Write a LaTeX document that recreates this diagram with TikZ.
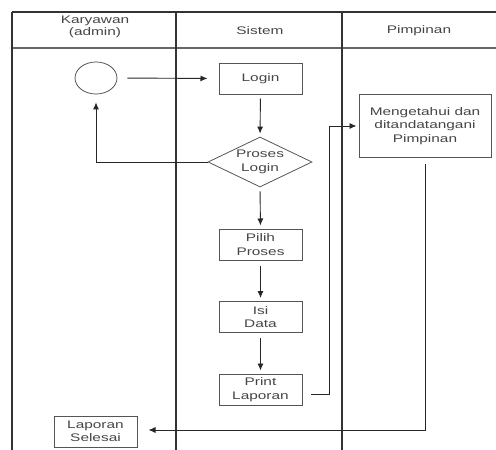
\documentclass[tikz,border=0pt]{standalone}
\usepackage{fontspec}
\setmainfont{Liberation Sans}[FakeStretch=1.4]
\usetikzlibrary{shapes.geometric,arrows.meta}
\definecolor{txt}{HTML}{454545}
\definecolor{edge}{HTML}{555555}

\begin{document}
\begin{tikzpicture}[x=1pt,y=-1pt,
  box/.style={draw=edge,line width=1pt,rectangle,minimum width=83pt,minimum height=31pt,
    inner sep=1pt,align=center,text=txt,font=\fontsize{11}{13.5}\selectfont},
  decide/.style={draw=edge,line width=0.8pt,diamond,aspect=2.1,minimum width=104pt,
    minimum height=50pt,inner sep=0pt,align=center,text=txt,font=\fontsize{11}{13.5}\selectfont},
  flow/.style={-{Latex[length=7pt,width=6pt]},line width=0.9pt,draw=black!85},
  lane/.style={line width=1.2pt,draw=black!80},
  head/.style={align=center,text=txt,font=\fontsize{11}{12.5}\selectfont}]
\useasboundingbox (0,0) rectangle (496,450);
% swimlanes
\draw[lane] (12,12) -- (496,12);
\draw[lane,draw=black!60] (12,48) -- (496,48);
\draw[lane] (12,12) -- (12,450);
\draw[lane] (176,12) -- (176,450);
\draw[lane] (342,12) -- (342,450);
\node[head] (hadmin) at (95,27) {Karyawan\\(admin)};
\node[head] (hsistem) at (260,31) {Sistem};
\node[head] (hpimpinan) at (419,31) {Pimpinan};
% nodes
\node[draw=edge,line width=0.8pt,ellipse,minimum width=42pt,minimum height=32pt,inner sep=0pt] (start) at (96,78) {};
\node[box] (login) at (260.5,78.5) {Login};
\node[decide] (proses) at (260,162) {Proses\\Login};
\node[box] (pilih) at (260.5,244.5) {Pilih\\Proses};
\node[box] (isi) at (260.5,317) {Isi\\Data};
\node[box] (print) at (260.5,389.5) {Print\\Laporan};
\node[box,minimum width=132pt,minimum height=63pt,anchor=north] (tanda) at (425,94) {Mengetahui dan\\ditandatangani\\Pimpinan};
\node[box] (selesai) at (95.5,431.5) {Laporan\\Selesai};
\coordinate (keluar) at (311,394);
\coordinate (naik) at (329,394);
\coordinate (atas) at (329,126);
\coordinate (turun) at (425,430);
% connectors
\draw[flow,shorten <=10pt,shorten >=11pt] (start.east) -- (login.west);
\draw[flow,shorten <=4pt,shorten >=3pt] (login.south) -- (proses.north);
\draw[flow,shorten >=8pt] (proses.west) -| (start.south);
\draw[flow,shorten <=4pt,shorten >=3pt] (proses.south) -- (pilih.north);
\draw[flow,shorten <=5pt,shorten >=3pt] (pilih.south) -- (isi.north);
\draw[flow,shorten <=5pt,shorten >=3pt] (isi.south) -- (print.north);
\draw[flow,shorten >=2pt] (keluar) -- (naik) -- (atas) -- (tanda.west |- atas);
\draw[flow,shorten <=6pt,shorten >=11pt] (tanda.south) -- (turun) -- (selesai.east |- turun);
\end{tikzpicture}
\end{document}
